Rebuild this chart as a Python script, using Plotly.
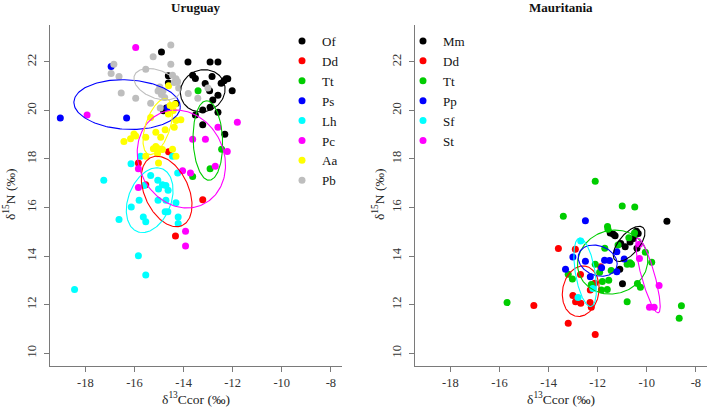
import numpy as np
import plotly.graph_objects as go

# ---------------- data: Uruguay ----------------
uy_groups = ["Of", "Dd", "Tt", "Ps", "Lh", "Pc", "Aa", "Pb"]
uy_colors = ["#000000", "#FF0000", "#00CD00", "#0000FF", "#00FFFF", "#FF00FF", "#FFFF00", "#BEBEBE"]

uy_of_x = [-14.90, -13.82, -12.92, -12.60, -14.62, -14.62, -13.63, -13.52, -13.12, -12.84, -12.94, -12.47, -12.35, -12.27,
           -12.20, -12.02, -12.60, -12.81, -12.92, -13.22, -13.52, -12.60, -13.22, -12.32, -14.31, -14.82, -14.70]
uy_of_y = [22.41, 22.00, 22.00, 22.00, 21.43, 21.13, 21.45, 21.32, 21.11, 21.40, 20.81, 21.12, 21.22, 21.30,
           21.30, 20.81, 20.62, 20.43, 20.13, 20.02, 19.81, 19.92, 19.41, 19.02, 20.29, 19.99, 20.10]
uy_dd_x = [-15.84, -15.54, -14.61, -13.22, -14.33]
uy_dd_y = [17.83, 16.94, 18.30, 16.32, 14.82]
uy_tt_x = [-13.41, -13.63, -12.92, -12.45]
uy_tt_y = [20.81, 17.28, 17.60, 18.40]
uy_ps_x = [-19.02, -16.32, -16.95, -14.65]
uy_ps_y = [19.69, 19.69, 21.81, 20.10]
uy_lh_x = [-18.44, -15.54, -15.84, -17.25, -16.63, -16.14, -15.75, -16.13, -15.81, -15.64, -15.54, -15.61, -15.34, -15.05,
           -14.86, -15.02, -14.72, -14.63, -15.04, -14.72, -14.75, -14.64, -14.31, -14.22, -14.22, -14.24, -14.45]
uy_lh_y = [12.62, 13.22, 14.01, 17.12, 15.50, 17.80, 18.11, 16.02, 16.30, 15.61, 15.41, 16.91, 17.32, 17.12,
           16.94, 16.76, 16.91, 16.71, 16.30, 16.30, 15.82, 15.82, 16.20, 15.61, 15.34, 17.42, 18.11]
uy_pc_x = [-15.95, -17.93, -11.81, -12.60, -13.63, -13.11, -12.22, -15.84, -14.04, -13.72, -12.71, -15.84, -13.92, -13.92]
uy_pc_y = [22.59, 19.81, 19.51, 19.31, 18.81, 18.81, 18.31, 17.60, 17.51, 17.42, 17.70, 16.82, 15.02, 14.41]
uy_aa_x = [-16.43, -16.16, -16.02, -15.95, -15.54, -15.34, -15.13, -14.93, -14.75, -14.38, -14.31, -14.11, -15.23,
           -15.13, -15.02, -14.86, -15.06, -15.02, -15.54, -14.31, -14.45, -14.61, -14.55, -14.42, -14.62, -14.35]
uy_aa_y = [18.72, 18.83, 19.03, 18.95, 18.89, 19.71, 19.10, 18.89, 19.20, 19.31, 19.58, 19.62, 18.42,
           18.51, 18.42, 18.39, 18.21, 17.83, 18.11, 18.11, 18.40, 21.02, 20.20, 20.00, 19.85, 20.25]
uy_pb_x = [-16.84, -16.95, -16.63, -16.54, -15.95, -15.54, -15.24, -14.52, -14.52, -15.34, -14.95, -14.97, -14.84,
           -15.04, -14.90, -14.77, -14.45, -14.31, -14.38, -14.24, -13.81, -13.42, -13.01, -14.20]
uy_pb_y = [21.90, 21.52, 21.40, 20.72, 20.50, 21.70, 22.21, 22.70, 21.90, 20.30, 20.10, 20.96, 20.80,
           20.80, 20.66, 20.53, 21.45, 21.31, 21.15, 21.18, 20.70, 20.50, 20.92, 20.92]

# ellipse parameters per group: centre x, centre y, semi-major, semi-minor, angle (deg)
uy_ell_cx = [-13.22, -14.69, -13.01, -16.30, -15.38, -14.09, -15.05, -15.08]
uy_ell_cy = [20.81, 16.66, 18.76, 20.24, 16.30, 18.00, 19.33, 21.08]
uy_ell_a = [0.93, 1.54, 1.64, 2.17, 1.39, 2.07, 1.20, 0.99]
uy_ell_b = [0.85, 0.90, 0.60, 1.02, 0.87, 1.74, 0.50, 0.575]
uy_ell_ang = [30, -66, 92, -3, 69, -66, 72, -22]

# ---------------- data: Mauritania ----------------
mr_groups = ["Mm", "Dd", "Tt", "Pp", "Sf", "St"]
mr_colors = ["#000000", "#FF0000", "#00CD00", "#0000FF", "#00FFFF", "#FF00FF"]

mr_mm_x = [-9.18, -10.99, -11.10, -11.49, -11.36, -11.29, -11.06, -10.88, -10.68, -10.54, -10.42, -10.35, -10.40]
mr_mm_y = [15.43, 12.86, 13.45, 14.95, 14.90, 14.83, 14.52, 14.38, 14.58, 14.72, 15.02, 14.93, 14.32]
mr_dd_x = [-14.60, -13.60, -12.91, -13.20, -12.10, -12.70, -13.01, -12.90, -12.69, -12.30, -12.31, -12.26, -12.12, -11.88]
mr_dd_y = [11.96, 14.31, 14.28, 11.23, 10.77, 13.24, 12.37, 12.12, 12.05, 12.60, 12.08, 11.89, 12.88, 13.56]
mr_tt_x = [-15.69, -12.10, -13.40, -11.00, -10.49, -11.60, -11.58, -12.10, -11.71, -11.17, -10.73, -10.50, -10.80,
           -10.62, -10.68, -10.06, -9.80, -10.38, -10.26, -10.80, -8.68, -8.59, -13.20, -13.03, -11.55, -11.61,
           -11.85, -11.81, -11.92, -12.26, -11.45]
mr_tt_y = [12.08, 17.08, 15.64, 16.06, 16.02, 15.22, 15.10, 13.66, 14.32, 14.45, 14.75, 14.95, 13.66,
           13.66, 13.72, 14.16, 13.74, 12.87, 12.71, 12.12, 11.44, 11.95, 13.25, 13.05, 13.00, 12.62,
           12.60, 12.95, 13.33, 12.83, 13.40]
mr_pp_x = [-12.50, -13.01, -13.31, -12.50, -12.30, -11.84, -11.72, -11.52, -11.22, -11.22, -10.92]
mr_pp_y = [15.45, 13.96, 13.45, 13.78, 13.15, 13.52, 13.83, 13.82, 14.18, 13.35, 13.88]
mr_sf_x = [-12.69, -12.80, -12.20]
mr_sf_y = [14.62, 12.29, 12.66]
mr_st_x = [-10.30, -10.30, -9.50, -9.89, -9.70]
mr_st_y = [14.49, 13.90, 12.78, 11.89, 11.89]

mr_ell_cx = [-10.72, -12.69, -11.39, -12.00, -12.51, -9.95]
mr_ell_cy = [14.50, 12.55, 13.75, 13.81, 13.33, 13.20]
mr_ell_a = [0.88, 1.05, 1.45, 0.82, 1.43, 1.60]
mr_ell_b = [0.41, 0.74, 1.30, 0.61, 0.40, 0.27]
mr_ell_ang = [50, 80, 20, -22, -80.5, -74.7]

# axes
x_ticks = [-18, -16, -14, -12, -10, -8]
x_tick_labels = ["-18", "-16", "-14", "-12", "-10", "-8"]
y_ticks = [10, 12, 14, 16, 18, 20, 22]
y_tick_labels = ["10", "12", "14", "16", "18", "20", "22"]
x_range = [-19.44, -7.56]
y_range = [9.48, 23.52]

uy_xs = [uy_of_x, uy_dd_x, uy_tt_x, uy_ps_x, uy_lh_x, uy_pc_x, uy_aa_x, uy_pb_x]
uy_ys = [uy_of_y, uy_dd_y, uy_tt_y, uy_ps_y, uy_lh_y, uy_pc_y, uy_aa_y, uy_pb_y]
mr_xs = [mr_mm_x, mr_dd_x, mr_tt_x, mr_pp_x, mr_sf_x, mr_st_x]
mr_ys = [mr_mm_y, mr_dd_y, mr_tt_y, mr_pp_y, mr_sf_y, mr_st_y]

FONT = "Liberation Serif, Times New Roman, serif"
W, H = 708, 409


def ellipse(cx, cy, a, b, ang):
    t = np.linspace(0, 2 * np.pi, 181)
    th = np.deg2rad(ang)
    ex = cx + a * np.cos(th) * np.cos(t) - b * np.sin(th) * np.sin(t)
    ey = cy + a * np.sin(th) * np.cos(t) + b * np.cos(th) * np.sin(t)
    return ex, ey


fig = go.Figure()


def add_panel(groups, colors, xs, ys, ecx, ecy, ea, eb, eang, xa, ya, leg):
    for g, c, x, y in zip(groups, colors, xs, ys):
        fig.add_trace(go.Scatter(x=x, y=y, mode="markers", name=g,
                                 marker=dict(color=c, size=7, line=dict(width=0)),
                                 xaxis=xa, yaxis=ya, legend=leg, hoverinfo="skip"))
    for c, cx, cy, a, b, an in zip(colors, ecx, ecy, ea, eb, eang):
        ex, ey = ellipse(cx, cy, a, b, an)
        fig.add_trace(go.Scatter(x=ex, y=ey, mode="lines", line=dict(color=c, width=1.1),
                                 xaxis=xa, yaxis=ya, showlegend=False, hoverinfo="skip"))


add_panel(uy_groups, uy_colors, uy_xs, uy_ys, uy_ell_cx, uy_ell_cy, uy_ell_a, uy_ell_b, uy_ell_ang, "x", "y", "legend")
add_panel(mr_groups, mr_colors, mr_xs, mr_ys, mr_ell_cx, mr_ell_cy, mr_ell_a, mr_ell_b, mr_ell_ang, "x2", "y2", "legend2")

axis_common = dict(showgrid=False, zeroline=False, showline=True, linecolor="#7a7a7a", linewidth=1,
                   ticks="outside", ticklen=5, tickcolor="#7a7a7a", tickwidth=1,
                   tickfont=dict(family=FONT, size=12.5, color="#333333"), fixedrange=True)

ydom = [1 - 365.7 / H, 1 - 25 / H]
fig.update_layout(
    width=W, height=H, margin=dict(l=0, r=0, t=0, b=0),
    paper_bgcolor="white", plot_bgcolor="white",
    xaxis=dict(domain=[50 / W, 341.7 / W], range=x_range, tickvals=x_ticks, ticktext=x_tick_labels,
               anchor="y", **axis_common),
    yaxis=dict(domain=ydom, range=y_range, tickvals=y_ticks, ticktext=y_tick_labels, tickangle=-90,
               ticklabelstandoff=3, anchor="x", **axis_common),
    xaxis2=dict(domain=[415 / W, 706.7 / W], range=x_range, tickvals=x_ticks, ticktext=x_tick_labels,
                anchor="y2", **axis_common),
    yaxis2=dict(domain=ydom, range=y_range, tickvals=y_ticks, ticktext=y_tick_labels, tickangle=-90,
                ticklabelstandoff=3, anchor="x2", **axis_common),
    legend=dict(x=282 / W, y=1 - 26 / H, xanchor="left", yanchor="top", bgcolor="rgba(0,0,0,0)",
                font=dict(family=FONT, size=13, color="#111111"), tracegroupgap=0, itemwidth=30),
    legend2=dict(x=403 / W, y=1 - 26 / H, xanchor="left", yanchor="top", bgcolor="rgba(0,0,0,0)",
                 font=dict(family=FONT, size=13, color="#111111"), tracegroupgap=0, itemwidth=30),
    showlegend=True,
)

ann_font = dict(family=FONT, size=13.5, color="#222222")
annotations = [
    dict(text="<b>Uruguay</b>", x=195.9 / W, y=1 - 7 / H, xref="paper", yref="paper",
         showarrow=False, xanchor="center", yanchor="middle", font=dict(family=FONT, size=13, color="#111111")),
    dict(text="<b>Mauritania</b>", x=560.8 / W, y=1 - 7 / H, xref="paper", yref="paper",
         showarrow=False, xanchor="center", yanchor="middle", font=dict(family=FONT, size=13, color="#111111")),
    dict(text="δ<sup>13</sup>Ccor (‰)", x=195.9 / W, y=1 - 398 / H, xref="paper", yref="paper",
         showarrow=False, xanchor="center", yanchor="middle", font=ann_font),
    dict(text="δ<sup>13</sup>Ccor (‰)", x=560.8 / W, y=1 - 398 / H, xref="paper", yref="paper",
         showarrow=False, xanchor="center", yanchor="middle", font=ann_font),
    dict(text="δ<sup>15</sup>N (‰)", x=10 / W, y=1 - 195 / H, xref="paper", yref="paper", textangle=-90,
         showarrow=False, xanchor="center", yanchor="middle", font=ann_font),
    dict(text="δ<sup>15</sup>N (‰)", x=379 / W, y=1 - 195 / H, xref="paper", yref="paper", textangle=-90,
         showarrow=False, xanchor="center", yanchor="middle", font=ann_font),
]
fig.update_layout(annotations=annotations)

fig.write_html("out.html", config={"displayModeBar": False},
               post_script="document.body.style.margin='0px';")
